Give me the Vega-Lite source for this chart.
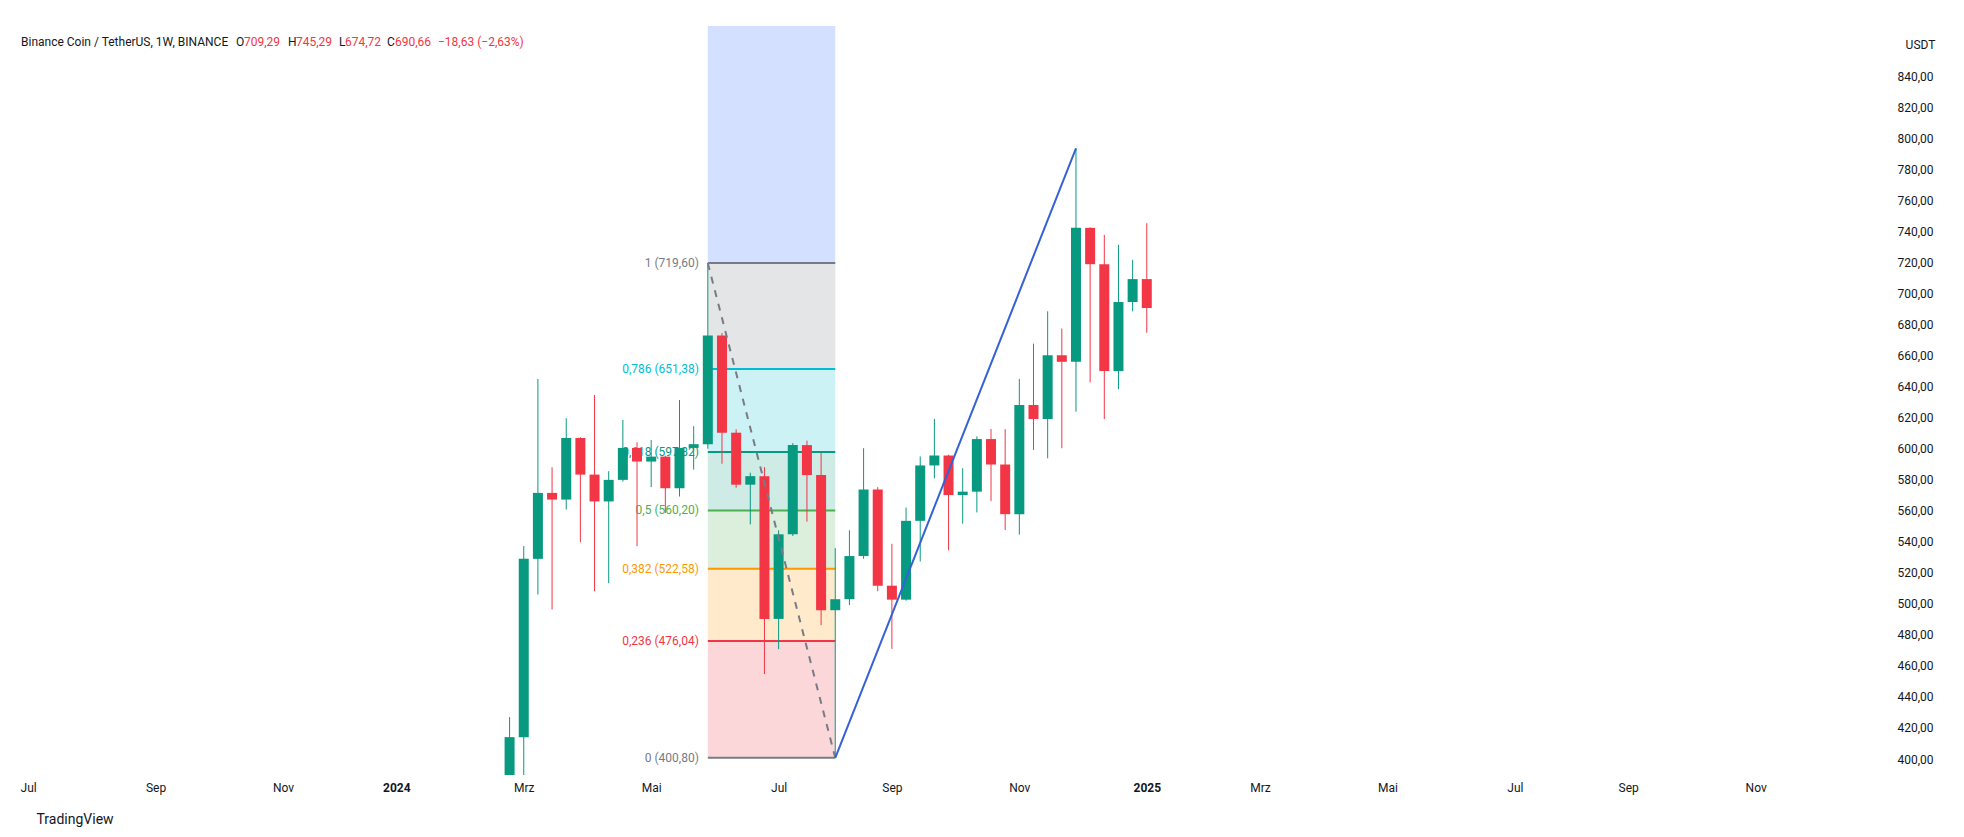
{
  "$schema": "https://vega.github.io/schema/vega-lite/v6.json",
  "width": 1870,
  "height": 749,
  "autosize": {"type": "none"},
  "padding": {"left": 10, "top": 26, "right": 84, "bottom": 62},
  "background": "#ffffff",
  "config": {
    "view": {"stroke": null},
    "font": "Roboto",
    "axis": {"labelColor": "#131722", "labelFontSize": 12, "labelFont": "Roboto", "titleFont": "Roboto", "titleColor": "#131722", "grid": false, "domain": false, "ticks": false, "labelOverlap": false},
    "axisY": {"labelOverlap": false, "labelBound": false}
  },
  "datasets": {
    "candles": [
      {"date": "2024-02-26", "open": 381.0, "high": 427.0, "low": 378.0, "close": 414.1},
      {"date": "2024-03-04", "open": 414.1, "high": 537.2, "low": 385.0, "close": 529.0},
      {"date": "2024-03-11", "open": 529.0, "high": 644.9, "low": 506.0, "close": 571.5},
      {"date": "2024-03-18", "open": 571.5, "high": 588.0, "low": 496.4, "close": 567.2},
      {"date": "2024-03-25", "open": 567.2, "high": 619.6, "low": 560.8, "close": 606.9},
      {"date": "2024-04-01", "open": 606.9, "high": 607.4, "low": 539.7, "close": 583.3},
      {"date": "2024-04-08", "open": 583.3, "high": 634.6, "low": 508.2, "close": 566.0},
      {"date": "2024-04-15", "open": 566.0, "high": 585.5, "low": 513.3, "close": 579.9},
      {"date": "2024-04-22", "open": 579.9, "high": 618.5, "low": 578.8, "close": 600.5},
      {"date": "2024-04-29", "open": 600.5, "high": 604.1, "low": 537.2, "close": 591.7},
      {"date": "2024-05-06", "open": 591.7, "high": 605.6, "low": 575.2, "close": 594.9},
      {"date": "2024-05-13", "open": 594.9, "high": 595.5, "low": 558.6, "close": 574.5},
      {"date": "2024-05-20", "open": 574.5, "high": 631.4, "low": 569.2, "close": 600.5},
      {"date": "2024-05-27", "open": 600.5, "high": 614.5, "low": 586.5, "close": 602.9},
      {"date": "2024-06-03", "open": 602.9, "high": 719.6, "low": 600.0, "close": 673.0},
      {"date": "2024-06-10", "open": 673.0, "high": 674.5, "low": 590.3, "close": 610.3},
      {"date": "2024-06-17", "open": 610.3, "high": 612.5, "low": 574.8, "close": 576.8},
      {"date": "2024-06-24", "open": 576.8, "high": 584.5, "low": 551.2, "close": 582.3},
      {"date": "2024-07-01", "open": 582.3, "high": 588.1, "low": 454.8, "close": 490.3},
      {"date": "2024-07-08", "open": 490.3, "high": 547.4, "low": 470.8, "close": 544.8},
      {"date": "2024-07-15", "open": 544.8, "high": 603.6, "low": 543.7, "close": 602.3},
      {"date": "2024-07-22", "open": 602.3, "high": 605.2, "low": 553.0, "close": 583.0},
      {"date": "2024-07-29", "open": 583.0, "high": 597.4, "low": 486.3, "close": 495.9},
      {"date": "2024-08-05", "open": 495.9, "high": 535.9, "low": 400.8, "close": 503.0},
      {"date": "2024-08-12", "open": 503.0, "high": 547.4, "low": 499.2, "close": 530.8},
      {"date": "2024-08-19", "open": 530.8, "high": 600.3, "low": 529.0, "close": 573.7},
      {"date": "2024-08-26", "open": 573.7, "high": 575.2, "low": 508.1, "close": 511.7},
      {"date": "2024-09-02", "open": 511.7, "high": 538.7, "low": 471.0, "close": 502.7},
      {"date": "2024-09-09", "open": 502.7, "high": 562.1, "low": 502.0, "close": 553.5},
      {"date": "2024-09-16", "open": 553.5, "high": 595.0, "low": 527.3, "close": 589.2},
      {"date": "2024-09-23", "open": 589.2, "high": 619.2, "low": 580.9, "close": 595.6},
      {"date": "2024-09-30", "open": 595.6, "high": 596.1, "low": 534.5, "close": 570.1},
      {"date": "2024-10-07", "open": 570.1, "high": 587.4, "low": 551.7, "close": 572.3},
      {"date": "2024-10-14", "open": 572.3, "high": 607.9, "low": 558.9, "close": 606.2},
      {"date": "2024-10-21", "open": 606.2, "high": 612.7, "low": 566.2, "close": 589.8},
      {"date": "2024-10-28", "open": 589.8, "high": 612.6, "low": 547.6, "close": 557.8},
      {"date": "2024-11-04", "open": 557.8, "high": 645.0, "low": 544.6, "close": 628.1},
      {"date": "2024-11-11", "open": 628.1, "high": 667.7, "low": 599.2, "close": 619.1},
      {"date": "2024-11-18", "open": 619.1, "high": 688.5, "low": 593.8, "close": 660.2},
      {"date": "2024-11-25", "open": 660.2, "high": 677.4, "low": 600.3, "close": 656.0},
      {"date": "2024-12-02", "open": 656.0, "high": 793.5, "low": 623.8, "close": 742.3},
      {"date": "2024-12-09", "open": 742.3, "high": 742.7, "low": 642.7, "close": 718.9},
      {"date": "2024-12-16", "open": 718.9, "high": 737.8, "low": 619.1, "close": 650.0},
      {"date": "2024-12-23", "open": 650.0, "high": 731.4, "low": 638.4, "close": 694.5},
      {"date": "2024-12-30", "open": 694.5, "high": 721.7, "low": 688.5, "close": 709.29},
      {"date": "2025-01-06", "open": 709.29, "high": 745.29, "low": 674.72, "close": 690.66}
    ],
    "fibZones": [
      {"lo": 400.8, "hi": 476.04, "level": "0.236"},
      {"lo": 476.04, "hi": 522.58, "level": "0.382"},
      {"lo": 522.58, "hi": 560.2, "level": "0.5"},
      {"lo": 560.2, "hi": 597.82, "level": "0.618"},
      {"lo": 597.82, "hi": 651.38, "level": "0.786"},
      {"lo": 651.38, "hi": 719.6, "level": "1"},
      {"lo": 719.6, "hi": 916.6, "level": "1.618"}
    ],
    "fibLevels": [
      {"level": "0", "price": 400.8, "label": "0 (400,80)"},
      {"level": "0.236", "price": 476.04, "label": "0,236 (476,04)"},
      {"level": "0.382", "price": 522.58, "label": "0,382 (522,58)"},
      {"level": "0.5", "price": 560.2, "label": "0,5 (560,20)"},
      {"level": "0.618", "price": 597.82, "label": "0,618 (597,82)"},
      {"level": "0.786", "price": 651.38, "label": "0,786 (651,38)"},
      {"level": "1", "price": 719.6, "label": "1 (719,60)"}
    ],
    "fibDiagonal": [
      {"date": "2024-06-03", "price": 719.6},
      {"date": "2024-08-05", "price": 400.8}
    ],
    "trend": [
      {"date": "2024-08-05", "price": 400.8},
      {"date": "2024-12-02", "price": 793.5}
    ],
    "header": [
      {"seg": "name", "text": "Binance Coin / TetherUS, 1W, BINANCE"},
      {"seg": "O", "text": "O"},
      {"seg": "Ov", "text": "709,29"},
      {"seg": "H", "text": "H"},
      {"seg": "Hv", "text": "745,29"},
      {"seg": "L", "text": "L"},
      {"seg": "Lv", "text": "674,72"},
      {"seg": "C", "text": "C"},
      {"seg": "Cv", "text": "690,66"},
      {"seg": "chg", "text": "−18,63 (−2,63%)"}
    ]
  },
  "layer": [
    {
      "data": {"name": "fibZones"},
      "mark": {"type": "rect", "opacity": 0.2, "clip": true},
      "encoding": {
        "x": {"datum": {"year": 2024, "month": "Jun", "date": 3, "utc": true}, "type": "temporal",
          "scale": {"type": "utc", "domain": [{"year": 2023, "month": "Jun", "date": 26, "hours": 12, "utc": true}, {"year": 2026, "month": "Jan", "date": 1, "utc": true}]},
          "axis": {"title": "TradingView", "titleX": 26, "titleY": 44, "titleAlign": "left", "titleBaseline": "middle", "titleFontSize": 14, "titleFontWeight": "normal", "labelPadding": 7, "labelOverlap": false,
            "values": [
              {"year": 2023, "month": "Jul", "date": 3, "utc": true},
              {"year": 2023, "month": "Sep", "date": 4, "utc": true},
              {"year": 2023, "month": "Nov", "date": 6, "utc": true},
              {"year": 2024, "month": "Jan", "date": 1, "utc": true},
              {"year": 2024, "month": "Mar", "date": 4, "utc": true},
              {"year": 2024, "month": "May", "date": 6, "utc": true},
              {"year": 2024, "month": "Jul", "date": 8, "utc": true},
              {"year": 2024, "month": "Sep", "date": 2, "utc": true},
              {"year": 2024, "month": "Nov", "date": 4, "utc": true},
              {"year": 2025, "month": "Jan", "date": 6, "utc": true},
              {"year": 2025, "month": "Mar", "date": 3, "utc": true},
              {"year": 2025, "month": "May", "date": 5, "utc": true},
              {"year": 2025, "month": "Jul", "date": 7, "utc": true},
              {"year": 2025, "month": "Sep", "date": 1, "utc": true},
              {"year": 2025, "month": "Nov", "date": 3, "utc": true}
            ],
            "labelExpr": "utcmonth(datum.value) == 0 ? utcFormat(datum.value, '%Y') : ['Jan','Feb','Mrz','Apr','Mai','Jun','Jul','Aug','Sep','Okt','Nov','Dez'][utcmonth(datum.value)]",
            "labelFontWeight": {"condition": {"test": "utcmonth(datum.value) == 0", "value": "bold"}, "value": "normal"}
          }
        },
        "x2": {"datum": {"year": 2024, "month": "Aug", "date": 5, "utc": true}},
        "y": {"field": "lo", "type": "quantitative",
          "scale": {"domain": [389.7, 872.4], "nice": false, "zero": false},
          "axis": {"orient": "right", "title": "USDT", "titleAngle": 0, "titleX": 40, "titleY": 18, "titleAlign": "center", "titleBaseline": "middle", "titleFontSize": 12, "titleFontWeight": "normal", "labelPadding": 17, "labelAlign": "left", "labelOverlap": false, "tickCount": 25,
            "values": [400, 420, 440, 460, 480, 500, 520, 540, 560, 580, 600, 620, 640, 660, 680, 700, 720, 740, 760, 780, 800, 820, 840],
            "labelExpr": "replace(format(datum.value, '.2f'), '.', ',')"
          }
        },
        "y2": {"field": "hi"},
        "color": {"field": "level", "type": "nominal", "legend": null,
          "scale": {"domain": ["0", "0.236", "0.382", "0.5", "0.618", "0.786", "1", "1.618"],
                    "range": ["#787b86", "#f23645", "#ff9800", "#4caf50", "#089981", "#00bcd4", "#787b86", "#2962ff"]}}
      }
    },
    {
      "data": {"name": "fibLevels"},
      "mark": {"type": "rule", "strokeWidth": 2},
      "encoding": {
        "x": {"datum": {"year": 2024, "month": "Jun", "date": 3, "utc": true}, "type": "temporal"},
        "x2": {"datum": {"year": 2024, "month": "Aug", "date": 5, "utc": true}},
        "y": {"field": "price", "type": "quantitative"},
        "color": {"field": "level", "type": "nominal", "legend": null}
      }
    },
    {
      "data": {"name": "fibLevels"},
      "mark": {"type": "text", "align": "right", "baseline": "middle", "dx": -9, "fontSize": 12},
      "encoding": {
        "x": {"datum": {"year": 2024, "month": "Jun", "date": 3, "utc": true}, "type": "temporal"},
        "y": {"field": "price", "type": "quantitative"},
        "text": {"field": "label"},
        "color": {"field": "level", "type": "nominal", "legend": null}
      }
    },
    {
      "mark": {"type": "rule", "color": "#f23645", "strokeWidth": 1, "strokeDash": [1.5, 2.5]},
      "encoding": {"y": {"datum": 690.66, "type": "quantitative"}}
    },
    {
      "data": {"name": "candles"},
      "mark": {"type": "rule", "strokeWidth": 1, "clip": true},
      "encoding": {
        "x": {"field": "date", "type": "temporal"},
        "y": {"field": "low", "type": "quantitative"},
        "y2": {"field": "high"},
        "color": {"condition": {"test": "datum.close >= datum.open", "value": "#089981"}, "value": "#f23645"}
      }
    },
    {
      "data": {"name": "candles"},
      "mark": {"type": "bar", "width": 10, "clip": true},
      "encoding": {
        "x": {"field": "date", "type": "temporal"},
        "y": {"field": "open", "type": "quantitative"},
        "y2": {"field": "close"},
        "color": {"condition": {"test": "datum.close >= datum.open", "value": "#089981"}, "value": "#f23645"}
      }
    },
    {
      "data": {"name": "fibDiagonal"},
      "mark": {"type": "line", "color": "#787b86", "strokeWidth": 2, "strokeDash": [7, 7]},
      "encoding": {
        "x": {"field": "date", "type": "temporal"},
        "y": {"field": "price", "type": "quantitative"}
      }
    },
    {
      "data": {"name": "trend"},
      "mark": {"type": "line", "color": "#3561d6", "strokeWidth": 2},
      "encoding": {
        "x": {"field": "date", "type": "temporal"},
        "y": {"field": "price", "type": "quantitative"}
      }
    },
    {
      "data": {"name": "header"},
      "transform": [{"filter": "datum.seg == 'name'"}],
      "mark": {"type": "text", "align": "left", "baseline": "middle", "fontSize": 12, "color": "#131722", "dx": 6},
      "encoding": {"x": {"datum": {"year": 2023, "month": "Jun", "date": 26, "hours": 12, "utc": true}, "type": "temporal"}, "y": {"datum": 862, "type": "quantitative"}, "text": {"field": "text"}}
    },
    {
      "data": {"name": "header"},
      "transform": [{"filter": "datum.seg == 'O'"}],
      "mark": {"type": "text", "align": "left", "baseline": "middle", "fontSize": 12, "color": "#131722", "dx": 221},
      "encoding": {"x": {"datum": {"year": 2023, "month": "Jun", "date": 26, "hours": 12, "utc": true}, "type": "temporal"}, "y": {"datum": 862, "type": "quantitative"}, "text": {"field": "text"}}
    },
    {
      "data": {"name": "header"},
      "transform": [{"filter": "datum.seg == 'Ov'"}],
      "mark": {"type": "text", "align": "left", "baseline": "middle", "fontSize": 12, "color": "#f23645", "dx": 229},
      "encoding": {"x": {"datum": {"year": 2023, "month": "Jun", "date": 26, "hours": 12, "utc": true}, "type": "temporal"}, "y": {"datum": 862, "type": "quantitative"}, "text": {"field": "text"}}
    },
    {
      "data": {"name": "header"},
      "transform": [{"filter": "datum.seg == 'H'"}],
      "mark": {"type": "text", "align": "left", "baseline": "middle", "fontSize": 12, "color": "#131722", "dx": 273},
      "encoding": {"x": {"datum": {"year": 2023, "month": "Jun", "date": 26, "hours": 12, "utc": true}, "type": "temporal"}, "y": {"datum": 862, "type": "quantitative"}, "text": {"field": "text"}}
    },
    {
      "data": {"name": "header"},
      "transform": [{"filter": "datum.seg == 'Hv'"}],
      "mark": {"type": "text", "align": "left", "baseline": "middle", "fontSize": 12, "color": "#f23645", "dx": 281},
      "encoding": {"x": {"datum": {"year": 2023, "month": "Jun", "date": 26, "hours": 12, "utc": true}, "type": "temporal"}, "y": {"datum": 862, "type": "quantitative"}, "text": {"field": "text"}}
    },
    {
      "data": {"name": "header"},
      "transform": [{"filter": "datum.seg == 'L'"}],
      "mark": {"type": "text", "align": "left", "baseline": "middle", "fontSize": 12, "color": "#131722", "dx": 324},
      "encoding": {"x": {"datum": {"year": 2023, "month": "Jun", "date": 26, "hours": 12, "utc": true}, "type": "temporal"}, "y": {"datum": 862, "type": "quantitative"}, "text": {"field": "text"}}
    },
    {
      "data": {"name": "header"},
      "transform": [{"filter": "datum.seg == 'Lv'"}],
      "mark": {"type": "text", "align": "left", "baseline": "middle", "fontSize": 12, "color": "#f23645", "dx": 330},
      "encoding": {"x": {"datum": {"year": 2023, "month": "Jun", "date": 26, "hours": 12, "utc": true}, "type": "temporal"}, "y": {"datum": 862, "type": "quantitative"}, "text": {"field": "text"}}
    },
    {
      "data": {"name": "header"},
      "transform": [{"filter": "datum.seg == 'C'"}],
      "mark": {"type": "text", "align": "left", "baseline": "middle", "fontSize": 12, "color": "#131722", "dx": 372},
      "encoding": {"x": {"datum": {"year": 2023, "month": "Jun", "date": 26, "hours": 12, "utc": true}, "type": "temporal"}, "y": {"datum": 862, "type": "quantitative"}, "text": {"field": "text"}}
    },
    {
      "data": {"name": "header"},
      "transform": [{"filter": "datum.seg == 'Cv'"}],
      "mark": {"type": "text", "align": "left", "baseline": "middle", "fontSize": 12, "color": "#f23645", "dx": 380},
      "encoding": {"x": {"datum": {"year": 2023, "month": "Jun", "date": 26, "hours": 12, "utc": true}, "type": "temporal"}, "y": {"datum": 862, "type": "quantitative"}, "text": {"field": "text"}}
    },
    {
      "data": {"name": "header"},
      "transform": [{"filter": "datum.seg == 'chg'"}],
      "mark": {"type": "text", "align": "left", "baseline": "middle", "fontSize": 12, "color": "#f23645", "dx": 423},
      "encoding": {"x": {"datum": {"year": 2023, "month": "Jun", "date": 26, "hours": 12, "utc": true}, "type": "temporal"}, "y": {"datum": 862, "type": "quantitative"}, "text": {"field": "text"}}
    }
  ]
}
